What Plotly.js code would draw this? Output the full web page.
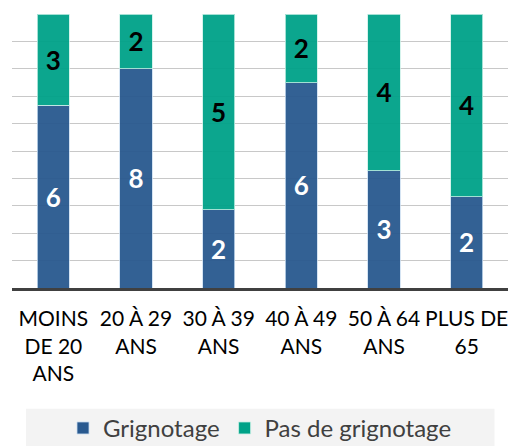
<!DOCTYPE html>
<html>
<head>
<meta charset="utf-8">
<script src="https://cdn.plot.ly/plotly-3.0.1.min.js"></script>
<style>html,body{margin:0;padding:0;background:#fff;}#chart{width:509px;height:446px;}</style>
</head>
<body>
<div id="chart"></div>
<script>
const categories = ["MOINS<br>DE 20<br>ANS", "20 À 29<br>ANS", "30 À 39<br>ANS", "40 À 49<br>ANS", "50 À 64<br>ANS", "PLUS DE<br>65"];
const grignotage = [6, 8, 2, 6, 3, 2];
const pasGrignotage = [3, 2, 5, 2, 4, 4];
const seriesNames = ["Grignotage", "Pas de grignotage"];

const blue = "#29598f";
const green = "#00a288";
const lbl = "Lato, 'Open Sans', sans-serif";

const data = [
  {
    type: "bar", name: seriesNames[0], x: categories, y: grignotage,
    text: grignotage.map(String), textposition: "inside", insidetextanchor: "middle",
    textangle: 0, constraintext: "none",
    textfont: {family: lbl, size: 26, color: "#ffffff", weight: 700},
    marker: {color: blue, opacity: 0.95, line: {color: "rgba(200,220,240,0.8)", width: 1}},
    hoverinfo: "none"
  },
  {
    type: "bar", name: seriesNames[1], x: categories, y: pasGrignotage,
    text: pasGrignotage.map(String), textposition: "inside", insidetextanchor: "middle",
    textangle: 0, constraintext: "none",
    textfont: {family: lbl, size: 26, color: "#000000", weight: 700},
    marker: {color: green, opacity: 0.95, line: {color: "rgba(200,240,230,0.8)", width: 1}},
    hoverinfo: "none"
  }
];

const layout = {
  width: 509, height: 446,
  margin: {l: 12, r: 1, t: 14, b: 158, autoexpand: false},
  barmode: "stack", barnorm: "percent", bargap: 0.61,
  paper_bgcolor: "#ffffff", plot_bgcolor: "#ffffff",
  font: {family: lbl, color: "#000000"},
  showlegend: true,
  legend: {
    orientation: "h", x: 0.5, xanchor: "center", yref: "container", y: 0.09, yanchor: "top",
    font: {family: lbl, size: 24, color: "#404040"},
    bgcolor: "rgba(0,0,0,0)", traceorder: "normal"
  },
  shapes: [
    {type: "rect", xref: "paper", yref: "paper", x0: 0.0282, x1: 0.9728, y0: -0.441, y1: -0.58,
     fillcolor: "#f3f3f3", line: {width: 0}, layer: "below"}
  ],
  xaxis: {
    type: "category", showgrid: false, zeroline: false,
    showline: true, linecolor: "#404040", linewidth: 3,
    ticks: "", ticklabelstandoff: 10,
    tickfont: {family: lbl, size: 21, color: "#000000"}, tickangle: 0,
    fixedrange: true
  },
  yaxis: {
    range: [0, 100], dtick: 10, tick0: 0, showticklabels: false,
    showgrid: true, gridcolor: "#c8c8c8", gridwidth: 1,
    zeroline: false, showline: false, ticks: "", fixedrange: true
  }
};

Plotly.newPlot("chart", data, layout, {staticPlot: true, displayModeBar: false});
</script>
</body>
</html>
